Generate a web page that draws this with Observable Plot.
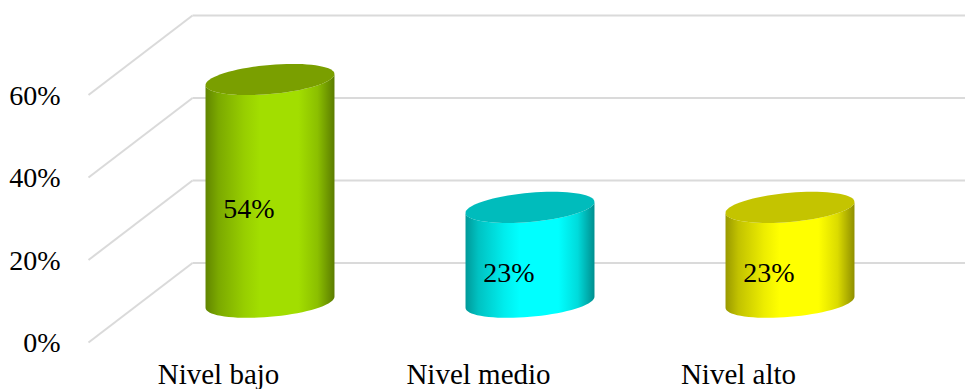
<!DOCTYPE html>
<html>
<head>
<meta charset="utf-8">
<script src="https://cdn.jsdelivr.net/npm/d3@7"></script>
<script src="https://cdn.jsdelivr.net/npm/@observablehq/plot@0.6"></script>
<style>
  html, body { margin: 0; padding: 0; background: #fff; }
  svg { display: block; }
</style>
</head>
<body>
<script>
// Survey results by level
const categories = ["Nivel bajo", "Nivel medio", "Nivel alto"];
const shares = [0.54, 0.23, 0.23];
const yTicks = [0, 0.2, 0.4, 0.6];

// Cylinder colours: lit body and darker lid
const bodyColors = ["#a2de00", "#00ffff", "#ffff00"];
const lidColors = ["#7a9f00", "#00bcbc", "#c4c400"];

// Oblique depth of the 3D floor, in axis units
const depthX = 0.4;
const depthY = 0.1927;
const bandCount = categories.length;

const rows = categories.map((name, i) => ({name, i, share: shares[i]}));

const pct = (v) => `${Math.round(v * 100)}%`;

// Draws each category as a shaded upright cylinder standing mid-depth on the floor
function cylinders(index, {x, y}) {
  const ns = "http://www.w3.org/2000/svg";
  const g = document.createElementNS(ns, "g");
  const defs = g.appendChild(document.createElementNS(ns, "defs"));
  const rx = x(0.248) - x(0);
  const ry = 14.6;
  const skew = 5.5;
  const steps = d3.range(0, 73).map((k) => (k * Math.PI) / 36);
  const rim = (cx, cy, t) => [cx + rx * Math.cos(t), cy + ry * Math.sin(t) - skew * Math.cos(t)];
  const shade = [[0, 0.6], [0.1, 0.76], [0.3, 0.93], [0.42, 1], [0.72, 1], [0.87, 0.86], [1, 0.56]];

  rows.forEach((d) => {
    const cx = x(d.i + 0.5 + depthX / 2);
    const y0 = y(depthY / 2);
    const y1 = y(d.share + depthY / 2);

    const grad = defs.appendChild(document.createElementNS(ns, "linearGradient"));
    grad.setAttribute("id", `cyl-${d.i}`);
    const base = d3.rgb(bodyColors[d.i]);
    shade.forEach(([o, k]) => {
      const stop = grad.appendChild(document.createElementNS(ns, "stop"));
      stop.setAttribute("offset", o);
      stop.setAttribute("stop-color", d3.rgb(base.r * k, base.g * k, base.b * k).formatHex());
    });

    // Body: lower half of the base rim, then back up along the upper half of the lid rim
    const lower = steps.filter((t) => t <= Math.PI).map((t) => rim(cx, y0, t));
    const upper = steps.filter((t) => t <= Math.PI).map((t) => rim(cx, y1, t)).reverse();
    const body = g.appendChild(document.createElementNS(ns, "path"));
    body.setAttribute("d", d3.line()([...lower, ...upper]) + "Z");
    body.setAttribute("fill", `url(#cyl-${d.i})`);

    const lid = g.appendChild(document.createElementNS(ns, "path"));
    lid.setAttribute("d", d3.line()(steps.map((t) => rim(cx, y1, t))) + "Z");
    lid.setAttribute("fill", lidColors[d.i]);
  });
  return g;
}

const chart = Plot.plot({
  width: 965,
  height: 389,
  marginLeft: 88,
  marginRight: 97,
  marginTop: 94.5,
  marginBottom: 47,
  style: {fontFamily: "'Liberation Serif', serif", fontSize: "28px", background: "#fff", color: "#000"},
  x: {domain: [0, bandCount], axis: null},
  y: {domain: [0, 0.6], axis: null},
  marks: [
    // Back wall gridlines
    Plot.link(yTicks, {
      x1: () => depthX, x2: () => bandCount + depthX,
      y1: (t) => t + depthY, y2: (t) => t + depthY,
      stroke: "#dadada", strokeWidth: 2
    }),
    // Side wall lines running toward the front
    Plot.link(yTicks, {
      x1: () => 0, x2: () => depthX,
      y1: (t) => t, y2: (t) => t + depthY,
      stroke: "#dadada", strokeWidth: 2
    }),
    cylinders,
    Plot.text(rows, {
      x: (d) => d.i + 0.5,
      y: (d) => d.share / 2,
      text: (d) => pct(d.share),
      dx: 30.5, dy: -22,
      fill: "#000",
      fontSize: 28
    }),
    Plot.axisY(yTicks, {
      anchor: "left",
      tickSize: 0, tickPadding: 28, dy: 1,
      tickFormat: pct, label: null, fill: "#000",
      fontSize: 28
    }),
    Plot.axisX(rows.map((d) => d.i + 0.5), {
      anchor: "bottom",
      tickSize: 0, tickPadding: 21,
      tickFormat: (v) => categories[Math.floor(v)], label: null, fill: "#000",
      fontSize: 29
    })
  ]
});
document.body.appendChild(chart);
</script>
</body>
</html>
